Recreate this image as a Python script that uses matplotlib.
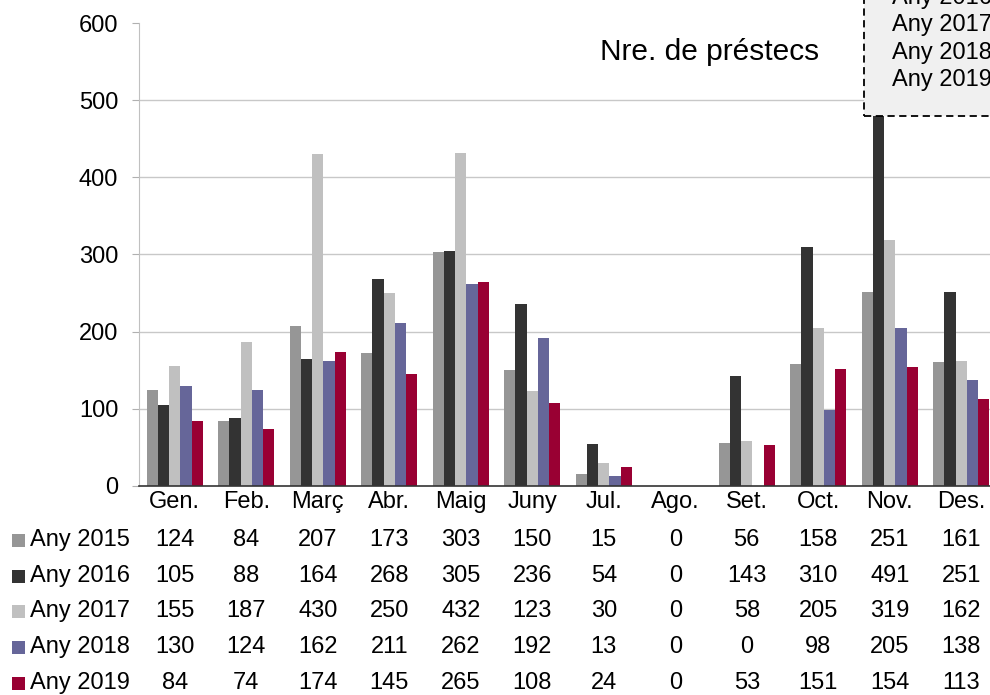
import numpy as np
import matplotlib.pyplot as plt
import matplotlib.transforms as mtrans
from matplotlib.patches import Rectangle

plt.rcParams['font.family'] = ['Liberation Sans', 'DejaVu Sans']

## Data
months = ["Gen.", "Feb.", "Març", "Abr.", "Maig", "Juny", "Jul.", "Ago.", "Set.", "Oct.", "Nov.", "Des."]
years = ["Any 2015", "Any 2016", "Any 2017", "Any 2018", "Any 2019"]
y2015 = [124, 84, 207, 173, 303, 150, 15, 0, 56, 158, 251, 161]
y2016 = [105, 88, 164, 268, 305, 236, 54, 0, 143, 310, 491, 251]
y2017 = [155, 187, 430, 250, 432, 123, 30, 0, 58, 205, 319, 162]
y2018 = [130, 124, 162, 211, 262, 192, 13, 0, 0, 98, 205, 138]
y2019 = [84, 74, 174, 145, 265, 108, 24, 0, 53, 151, 154, 113]
series = [y2015, y2016, y2017, y2018, y2019]
colors = ["#969696", "#333333", "#c0c0c0", "#666699", "#990033"]

W, H = 990, 695
FS = 17
fig = plt.figure(figsize=(W / 100, H / 100), dpi=100)

def fy(py):
    # pixel from top -> figure fraction
    return (H - py) / H

## Axes placement (plot area runs a bit past the right edge, as in the original crop)
left, right, top, bottom = 139, 997, 23, 486
ax = fig.add_axes([left / W, fy(bottom), (right - left) / W, (bottom - top) / H])
ax.set_xlim(-0.5, 11.5)
ax.set_ylim(0, 600)

x = np.arange(len(months))
w = 0.157
for i, vals in enumerate(series):
    ax.bar(x + (i - 2) * w, vals, width=w, color=colors[i], zorder=3)

ax.set_yticks(range(0, 601, 100))
ax.tick_params(axis='y', labelsize=FS, length=5, color="#b0b0b0", pad=10)
ax.set_xticks([])
for y in range(100, 501, 100):
    ax.axhline(y, color="#c8c8c8", lw=1, zorder=1)
for s in ["top", "right"]:
    ax.spines[s].set_visible(False)
ax.spines["left"].set_color("#c0c0c0")
ax.spines["bottom"].set_color("#333333")
ax.spines["bottom"].set_linewidth(1.2)
ax.spines["bottom"].set_zorder(4)

## Title
fig.text(710 / W, fy(60), "Nre. de préstecs", fontsize=21.5, ha="center", va="baseline")

## Data table below axis
trans = mtrans.blended_transform_factory(ax.transData, fig.transFigure)
for j, m in enumerate(months):
    ax.text(j, fy(502), m, transform=trans, ha="center", va="center", fontsize=FS, clip_on=False)
row_y = [540, 576, 611, 647, 683]
for i, (name, vals) in enumerate(zip(years, series)):
    yy = fy(row_y[i])
    fig.patches.append(Rectangle((12 / W, yy - 6.5 / H), 13 / W, 13 / H, transform=fig.transFigure,
                                 facecolor=colors[i], edgecolor="none"))
    fig.text(30 / W, yy, name, ha="left", va="center", fontsize=FS)
    for j, v in enumerate(vals):
        ax.text(j, yy, str(v), transform=trans, ha="center", va="center", fontsize=FS, clip_on=False)

## Legend box (partly cut off in the original)
fig.patches.append(Rectangle((864 / W, fy(116)), 200 / W, 200 / H, transform=fig.transFigure,
                             facecolor="#f0f0f0", edgecolor="black", linestyle=(0, (4, 2.5)),
                             lw=1.3, zorder=5))
leg_y = [-29, -2, 25, 53, 80]
for i, name in enumerate(years):
    fig.text(892 / W, fy(leg_y[i]), name, ha="left", va="center", fontsize=FS, zorder=6)

fig.savefig("out.png", dpi=100)
